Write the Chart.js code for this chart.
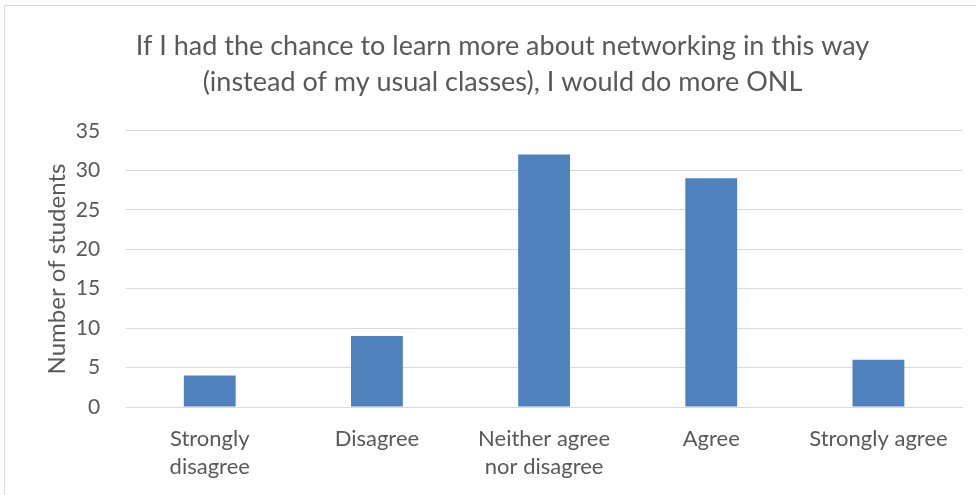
<!DOCTYPE html>
<html>
<head>
<meta charset="utf-8">
<script src="https://cdn.jsdelivr.net/npm/chart.js@4"></script>
<style>
  body { margin: 0; background: #fff; }
  #wrap { position: absolute; left: 4px; top: 5px; width: 980px; height: 500px; border: 1px solid #d9d9d9; box-sizing: border-box; }
  #box { position: absolute; left: 0; top: 0; width: 976px; height: 495px; }
</style>
</head>
<body>
<div id="wrap"></div>
<div id="box"><canvas id="likertChart"></canvas></div>
<script>
// survey answers
const categories = [['Strongly', 'disagree'], 'Disagree', ['Neither agree', 'nor disagree'], 'Agree', 'Strongly agree'];
const studentCounts = [4, 9, 32, 29, 6];
const yTicks = [0, 5, 10, 15, 20, 25, 30, 35];

document.addEventListener('DOMContentLoaded', function () {
    const ctx = document.getElementById('likertChart').getContext('2d');
    const likertChart = new Chart(ctx, {
        type: 'bar',
        data: {
            labels: categories,
            datasets: [{
                label: 'Number of students',
                data: studentCounts,
                backgroundColor: '#4f81bd',
                borderWidth: 0,
                barPercentage: 0.62,
                categoryPercentage: 0.5
            }]
        },
        options: {
            responsive: true,
            maintainAspectRatio: false,
            animation: false,
            layout: {
                padding: { left: 43, right: 14, top: 28, bottom: 4 }
            },
            plugins: {
                legend: { display: false },
                tooltip: { enabled: false },
                title: {
                    display: true,
                    text: ['If I had the chance to learn more about networking in this way',
                           '(instead of my usual classes), I would do more ONL'],
                    color: '#595959',
                    font: { family: 'Lato', size: 27, weight: 'normal', lineHeight: 1.33 },
                    padding: { top: 0, bottom: 31 }
                }
            },
            scales: {
                y: {
                    min: 0,
                    max: 35,
                    afterBuildTicks: function (axis) {
                        axis.ticks = yTicks.map(v => ({ value: v }));
                    },
                    border: { display: false },
                    grid: { color: '#d9d9d9', lineWidth: 1, drawTicks: false },
                    ticks: {
                        color: '#595959',
                        padding: 26,
                        font: { family: 'Lato', size: 21 }
                    },
                    title: {
                        display: true,
                        text: 'Number of students',
                        color: '#595959',
                        font: { family: 'Lato', size: 24 },
                        padding: { top: 0, bottom: -22 }
                    }
                },
                x: {
                    border: { color: '#d9d9d9' },
                    grid: { display: false },
                    ticks: {
                        color: '#595959',
                        padding: 10,
                        maxRotation: 0,
                        font: { family: 'Lato', size: 22, lineHeight: 1.27 }
                    }
                }
            }
        }
    });
});
</script>
</body>
</html>
